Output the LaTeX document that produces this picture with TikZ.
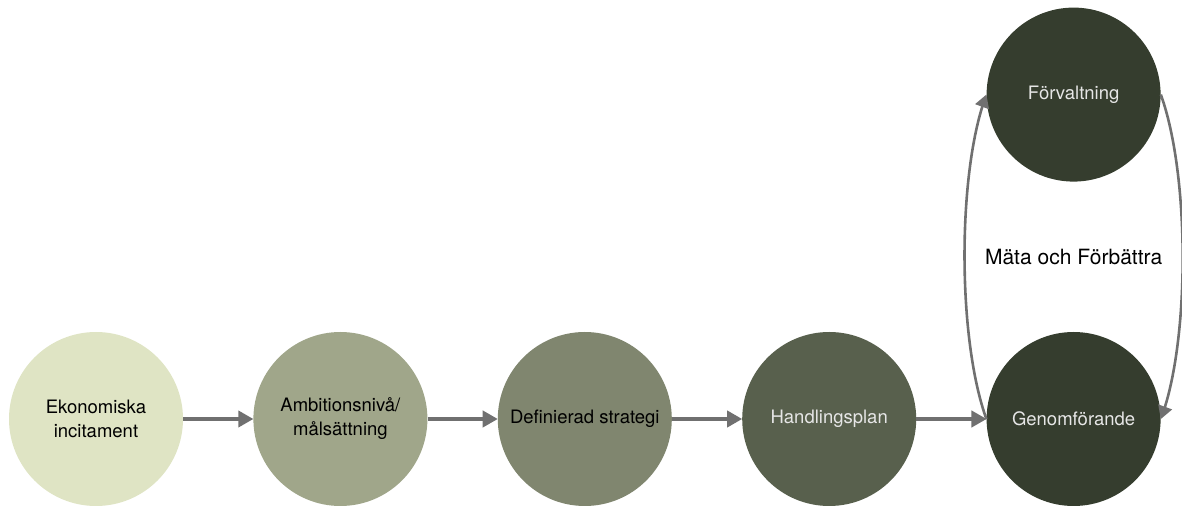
\documentclass[tikz,border=0pt]{standalone}
\usepackage{fontspec}
\setmainfont{TeX Gyre Heros}
\usetikzlibrary{shapes,arrows,chains,calc,positioning}

\definecolor{stageA}{HTML}{DFE4C4}
\definecolor{stageB}{HTML}{A0A68A}
\definecolor{stageC}{HTML}{80866F}
\definecolor{stageD}{HTML}{58604D}
\definecolor{stageE}{HTML}{353D2E}
\definecolor{arrowgray}{HTML}{707070}
\definecolor{lighttext}{HTML}{E6E6E6}

\begin{document}
\begin{tikzpicture}[%
    x=1pt, y=1pt,
    >=triangle 60,              % arrow tips
    start chain=going right,    % the steps run left to right
    node distance=70pt,         % gap between the circles
    every join/.style={norm},   % straight connectors
    ]
% -------------------------------------------------
% Styles
\tikzset{
  base/.style={circle, minimum size=174pt, inner sep=0pt, align=center,
    font=\fontsize{18.5}{24}\selectfont},
  flow/.style={base, on chain},
  darkstep/.style={text=lighttext},
  % -------------------------------------------------
  % Connector styles
  norm/.style={->, draw=arrowgray, line width=3.2pt},
  cycl/.style={->, draw=arrowgray, line width=2.6pt}
}
\useasboundingbox (0,0) rectangle (1182,508);
% -------------------------------------------------
% The steps
\node [flow, fill=stageA] at (96,89) (eko) {Ekonomiska\\incitament};
\node [flow, fill=stageB, join] (amb) {Ambitionsnivå/\\målsättning};
\node [flow, fill=stageC, join] (strat) {Definierad strategi};
\node [flow, fill=stageD, darkstep, join] (plan) {Handlingsplan};
\node [flow, fill=stageE, darkstep, join] (genom) {Genomförande};

% Top node
\node [base, fill=stageE, darkstep, above=150pt of genom] (forv) {Förvaltning};

% Label between the two
\node [font=\fontsize{21}{24}\selectfont] (mata) at ($(forv)!0.5!(genom)$) {Mäta och Förbättra};

% Curved connectors
\draw [cycl] (genom.west) .. controls +(-29,80) and +(-29,-80) .. (forv.west);
\draw [cycl] (forv.east) .. controls +(29,-80) and +(29,80) .. (genom.east);

\end{tikzpicture}
\end{document}
